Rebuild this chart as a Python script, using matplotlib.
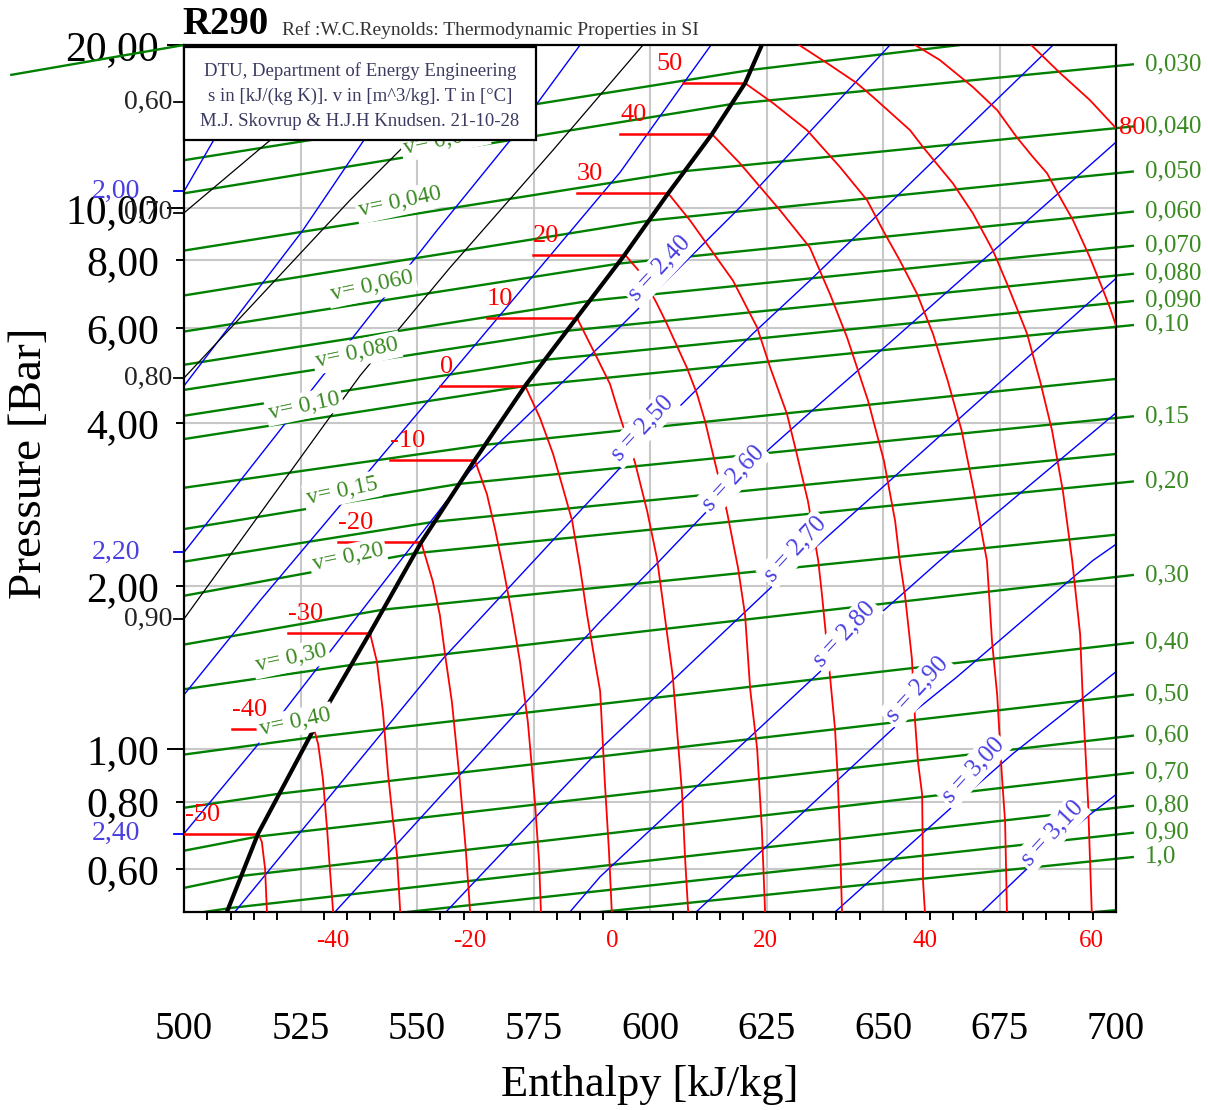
import matplotlib
matplotlib.use("Agg")
import matplotlib.pyplot as plt
import matplotlib.transforms as mtransforms
from matplotlib.patches import Rectangle

plt.rcParams['font.family'] = ['Liberation Serif', 'DejaVu Serif']

# ---------------- axis / tick data ----------------
h_major = [500, 525, 550, 575, 600, 625, 650, 675, 700]
h_major_labels = ['500', '525', '550', '575', '600', '625', '650', '675', '700']
h_minor = [505, 510, 515, 520, 530, 535, 540, 545, 555, 560, 565, 570, 580, 585, 590, 595,
           605, 610, 615, 620, 630, 635, 640, 645, 655, 660, 665, 670, 680, 685, 690, 695]
p_ticks_long = [1.0, 10.0, 20.0]
p_ticks_long_labels = ['1,00', '10,00', '20,00']
p_ticks_short = [0.6, 0.8, 2.0, 4.0, 6.0, 8.0]
p_ticks_short_labels = ['0,60', '0,80', '2,00', '4,00', '6,00', '8,00']
grid_h = [525, 550, 575, 600, 625, 650, 675]
grid_p = [0.6, 0.8, 1.0, 2.0, 4.0, 6.0, 8.0, 10.0]

# ---------------- saturated vapour line ----------------
sat_h = [624.0, 620.4, 613.3, 603.9, 594.6, 584.3, 573.2, 562.4, 550.9, 539.9, 527.9, 515.9, 509.2]
sat_p = [20.0, 17.0, 13.69, 10.64, 8.20, 6.27, 4.69, 3.42, 2.41, 1.64, 1.09, 0.698, 0.5]

# ---------------- isotherms: two-phase plateaus ----------------
plateau_T = [-50, -40, -30, -20, -10, 0, 10, 20, 30, 40, 50]
plateau_p = [0.698, 1.09, 1.64, 2.41, 3.42, 4.69, 6.27, 8.20, 10.64, 13.69, 17.0]
plateau_h_start = [500.0, 510.3, 522.3, 533.0, 544.2, 554.9, 565.0, 574.9, 584.3, 593.6, 607.1]
plateau_h_end = [515.9, 527.9, 539.9, 550.9, 562.4, 573.2, 584.3, 594.6, 603.9, 613.3, 620.4]
plateau_label_h = [500.2, 510.3, 522.3, 533.0, 544.2, 554.9, 565.0, 574.9, 584.3, 593.6, 601.3]

# ---------------- isotherms: superheated vapour ----------------
t_m50_h = [515.9, 516.7, 517.4, 517.8]
t_m50_p = [0.698, 0.674, 0.601, 0.5]
t_m40_h = [527.9, 528.8, 529.8, 530.7, 531.3, 532.0]
t_m40_p = [1.09, 1.02, 0.882, 0.713, 0.601, 0.5]
t_m30_h = [539.9, 541.4, 542.7, 543.8, 544.8, 545.7, 546.4]
t_m30_p = [1.64, 1.45, 1.17, 0.897, 0.744, 0.638, 0.5]
t_m20_h = [550.9, 553.4, 554.9, 556.0, 557.5, 559.2, 560.5, 561.4]
t_m20_p = [2.41, 2.04, 1.77, 1.50, 1.22, 0.871, 0.647, 0.5]
t_m10_h = [562.4, 565.0, 566.7, 568.5, 570.4, 572.1, 573.8, 575.3, 576.2, 576.6]
t_m10_p = [3.42, 2.96, 2.56, 2.16, 1.77, 1.45, 1.12, 0.800, 0.619, 0.5]
t_0_h = [573.2, 576.4, 579.2, 581.3, 583.3, 585.0, 586.5, 588.2, 589.3, 590.3, 591.2, 591.8]
t_0_p = [4.69, 4.09, 3.51, 3.04, 2.64, 2.16, 1.77, 1.45, 1.28, 0.871, 0.647, 0.5]
t_10_h = [584.3, 588.6, 591.4, 593.3, 596.8, 599.4, 601.5, 602.8, 604.9, 606.9, 607.5, 608.2]
t_10_p = [6.27, 5.29, 4.73, 4.18, 3.38, 2.75, 2.25, 1.86, 1.36, 0.824, 0.635, 0.5]
t_20_h = [594.6, 597.9, 601.5, 603.6, 607.9, 610.1, 611.8, 613.5, 616.5, 618.9, 620.4, 621.5, 623.0, 624.0, 624.7]
t_20_p = [8.20, 7.60, 6.65, 6.11, 5.07, 4.53, 4.04, 3.51, 2.75, 2.16, 1.77, 1.29, 1.00, 0.713, 0.5]
t_30_h = [603.9, 608.6, 617.8, 623.0, 625.8, 629.4, 631.5, 633.9, 636.1, 636.9, 638.6, 639.7, 640.3, 640.8, 641.2]
t_30_p = [10.64, 9.48, 7.34, 6.01, 5.07, 4.16, 3.51, 2.87, 2.23, 1.93, 1.37, 1.09, 0.882, 0.665, 0.5]
t_40_h = [613.3, 619.3, 627.9, 634.3, 638.6, 642.3, 646.8, 650.2, 652.6, 653.6, 654.7, 656.2, 656.9, 657.5, 658.4, 658.6, 659.0]
t_40_p = [13.69, 12.09, 9.90, 8.45, 6.94, 5.76, 4.40, 3.41, 2.64, 2.23, 1.93, 1.47, 1.12, 0.948, 0.824, 0.568, 0.5]
t_50_h = [620.4, 626.4, 633.7, 640.8, 646.6, 650.0, 653.6, 657.3, 660.7, 663.9, 666.9, 669.5, 672.3, 673.4, 674.5, 675.5, 676.2, 676.6]
t_50_p = [17.0, 15.62, 13.92, 11.89, 10.33, 9.09, 8.00, 6.94, 5.86, 4.79, 3.87, 3.00, 2.23, 1.58, 1.26, 0.897, 0.734, 0.5]
t_60_h = [632.0, 638.6, 644.4, 647.9, 655.8, 658.6, 665.0, 669.3, 673.6, 676.6, 680.9, 683.7, 686.3, 688.6, 690.6, 692.3, 692.9, 694.0, 694.8]
t_60_p = [20.0, 18.37, 17.0, 16.02, 13.92, 12.95, 11.10, 9.77, 8.34, 7.25, 5.86, 4.79, 3.87, 3.00, 2.23, 1.63, 1.22, 0.800, 0.5]
t_70_h = [656.9, 662.2, 669.3, 674.5, 678.7, 682.2, 685.2, 688.0, 690.8, 694.4, 697.0, 698.7, 700.0]
t_70_p = [20.0, 18.76, 16.72, 15.16, 13.51, 12.41, 11.59, 10.46, 9.48, 8.10, 7.13, 6.54, 6.06]
t_80_h = [681.8, 688.0, 694.4, 700.0]
t_80_p = [20.0, 17.75, 15.82, 14.04]
bottom_T = [-40, -20, 0, 20, 40, 60]

# ---------------- isentropes ----------------
s_200_h = [500.0, 518.2]
s_200_p = [10.73, 20.0]
s_210_h = [500.0, 525.5, 538.6, 553.2]
s_210_p = [4.69, 9.09, 13.34, 20.0]
s_220_h = [500.0, 554.3, 570.0, 585.0]
s_220_p = [2.31, 9.09, 13.34, 20.0]
s_230_h = [500.0, 516.3, 551.1, 593.6, 608.6, 613.1]
s_230_p = [1.26, 1.88, 4.27, 11.64, 17.67, 20.0]
s_240_h = [500.0, 516.3, 561.4, 593.6, 619.3, 651.5]
s_240_p = [0.698, 1.03, 3.27, 6.03, 10.02, 20.0]
s_250_h = [510.9, 555.6, 593.6, 605.8, 622.1, 634.3, 686.5]
s_250_p = [0.5, 1.47, 3.31, 4.25, 5.86, 7.34, 20.0]
s_260_h = [532.4, 581.3, 589.3, 602.1, 612.2, 625.8, 636.5, 651.5, 700.0]
s_260_p = [0.5, 1.45, 1.72, 2.23, 2.75, 3.60, 4.35, 5.64, 13.23]
s_270_h = [556.2, 589.3, 627.3, 700.0]
s_270_p = [0.5, 1.00, 2.04, 7.41]
s_280_h = [582.8, 589.3, 636.5, 649.4, 662.2, 700.0]
s_280_p = [0.5, 0.581, 1.39, 1.78, 2.23, 4.18]
s_290_h = [609.9, 652.1, 665.9, 695.0, 700.0]
s_290_p = [0.5, 1.09, 1.36, 2.23, 2.39]
s_300_h = [639.7, 664.4, 677.9, 700.0]
s_300_p = [0.5, 0.776, 0.981, 1.39]
s_310_h = [671.2, 680.9, 694.4, 700.0]
s_310_p = [0.5, 0.601, 0.757, 0.824]
s_left_labels = ['2,00', '2,20', '2,40']
s_inline_labels = ['s = 2,40', 's = 2,50', 's = 2,60', 's = 2,70', 's = 2,80', 's = 2,90', 's = 3,00', 's = 3,10']
s_inline_h = [602.1, 598.3, 617.8, 631.1, 641.8, 657.3, 669.3, 686.3]
s_inline_p = [7.73, 3.91, 3.16, 2.34, 1.63, 1.29, 0.916, 0.698]

# ---------------- quality lines ----------------
q_60_h = [500.0, 516.3]
q_60_p = [15.68, 20.0]
q_70_h = [500.0, 518.0, 546.4]
q_70_p = [9.79, 13.23, 20.0]
q_80_h = [500.0, 535.6, 568.9]
q_80_p = [4.85, 10.33, 20.0]
q_90_h = [500.0, 529.6, 537.8, 557.1, 579.2, 598.5]
q_90_p = [1.74, 3.92, 4.90, 7.76, 12.79, 20.0]
q_labels = ['0,60', '0,70', '0,80', '0,90']

# ---------------- isochores ----------------
v_0020_h = [462.7, 500.0]
v_0020_p = [17.60, 20.0]
v_0025_h = [500.0, 621.5, 666.5]
v_0025_p = [12.25, 17.98, 20.0]
v_0030_h = [500.0, 617.4, 700.0]
v_0030_p = [10.64, 15.55, 18.29]
v_0040_h = [500.0, 607.3, 700.0]
v_0040_p = [8.34, 11.69, 14.04]
v_0050_h = [500.0, 600.0, 700.0]
v_0050_p = [6.89, 9.48, 11.59]
v_0060_h = [500.0, 593.3, 700.0]
v_0060_p = [5.91, 7.89, 9.77]
v_0070_h = [500.0, 587.3, 700.0]
v_0070_p = [5.13, 6.74, 8.45]
v_0080_h = [500.0, 582.4, 700.0]
v_0080_p = [4.61, 5.93, 7.50]
v_0090_h = [500.0, 577.5, 700.0]
v_0090_p = [4.13, 5.24, 6.68]
v_010_h = [500.0, 573.4, 700.0]
v_010_p = [3.74, 4.69, 6.03]
v_012_h = [500.0, 564.6, 700.0]
v_012_p = [3.04, 3.65, 4.83]
v_015_h = [500.0, 559.0, 700.0]
v_015_p = [2.55, 3.09, 4.09]
v_017_h = [500.0, 553.6, 700.0]
v_017_p = [2.22, 2.63, 3.51]
v_020_h = [500.0, 549.4, 700.0]
v_020_p = [1.92, 2.30, 3.10]
v_025_h = [500.0, 542.7, 700.0]
v_025_p = [1.56, 1.81, 2.49]
v_030_h = [500.0, 535.8, 700.0]
v_030_p = [1.29, 1.43, 2.08]
v_040_h = [500.0, 527.0, 700.0]
v_040_p = [0.977, 1.05, 1.56]
v_050_h = [500.0, 520.4, 700.0]
v_050_p = [0.779, 0.827, 1.25]
v_060_h = [500.0, 515.7, 700.0]
v_060_p = [0.649, 0.689, 1.05]
v_070_h = [500.0, 512.4, 700.0]
v_070_p = [0.554, 0.583, 0.897]
v_080_h = [504.3, 510.3, 700.0]
v_080_p = [0.5, 0.509, 0.779]
v_090_h = [547.9, 700.0]
v_090_p = [0.5, 0.695]
v_100_h = [589.3, 700.0]
v_100_p = [0.5, 0.627]
v_120_h = [695.5, 700.0]
v_120_p = [0.5, 0.504]
v_inline_labels = ['v= 0,030', 'v= 0,040', 'v= 0,060', 'v= 0,080', 'v= 0,10', 'v= 0,15', 'v= 0,20', 'v= 0,30', 'v= 0,40']
v_inline_h = [556.0, 546.4, 540.3, 537.1, 525.8, 533.9, 535.2, 523.0, 523.8]
v_inline_p = [13.34, 10.24, 7.16, 5.40, 4.31, 3.00, 2.26, 1.47, 1.12]

# ---------------- text ----------------
title_main = 'R290'
title_ref = 'Ref :W.C.Reynolds: Thermodynamic Properties in SI'
box_lines = ['DTU, Department of Energy Engineering',
             's in [kJ/(kg K)]. v in [m^3/kg]. T in [\u00b0C]',
             'M.J. Skovrup & H.J.H Knudsen. 21-10-28']

# ======================= drawing =======================
W, H = 1208, 1110
RED, GREEN, BLUE = '#ff0000', '#008000', '#0000ff'
GREEN_TXT, BLUE_TXT = '#3a8a22', '#4a3fe0'

fig = plt.figure(figsize=(W / 100, H / 100), dpi=100)
ax = fig.add_axes([184 / W, 1 - 912 / H, 932 / W, 867 / H])
ax.set_yscale('log')
ax.set_xlim(500, 700)
ax.set_ylim(0.5, 20)
trans_ly = mtransforms.blended_transform_factory(ax.transAxes, ax.transData)

for g in grid_h:
    ax.axvline(g, color='#c8c8c8', lw=1.5, zorder=0.5)
for g in grid_p:
    ax.axhline(g, color='#c8c8c8', lw=1.5, zorder=0.5)

# isochores
isochores = [
    (v_0020_h, v_0020_p, None), (v_0025_h, v_0025_p, None),
    (v_0030_h, v_0030_p, '0,030'), (v_0040_h, v_0040_p, '0,040'),
    (v_0050_h, v_0050_p, '0,050'), (v_0060_h, v_0060_p, '0,060'),
    (v_0070_h, v_0070_p, '0,070'), (v_0080_h, v_0080_p, '0,080'),
    (v_0090_h, v_0090_p, '0,090'), (v_010_h, v_010_p, '0,10'),
    (v_012_h, v_012_p, None), (v_015_h, v_015_p, '0,15'),
    (v_017_h, v_017_p, None), (v_020_h, v_020_p, '0,20'),
    (v_025_h, v_025_p, None), (v_030_h, v_030_p, '0,30'),
    (v_040_h, v_040_p, '0,40'), (v_050_h, v_050_p, '0,50'),
    (v_060_h, v_060_p, '0,60'), (v_070_h, v_070_p, '0,70'),
    (v_080_h, v_080_p, '0,80'), (v_090_h, v_090_p, '0,90'),
    (v_100_h, v_100_p, '1,0'), (v_120_h, v_120_p, None),
]
for i, (hh, pp, lab) in enumerate(isochores):
    unclipped = (i == 0)
    ax.plot(hh, pp, color=GREEN, lw=1.7, zorder=2, clip_on=not unclipped,
            solid_capstyle='butt')
    if lab is not None:
        h1, h0 = hh[-1], hh[-2]
        p1, p0 = pp[-1], pp[-2]
        h_ext = h1 + 3.6
        p_ext = p1 * (p1 / p0) ** ((h_ext - h1) / (h1 - h0))
        ax.plot([h1, h_ext], [p1, p_ext], color=GREEN, lw=1.7, zorder=2, clip_on=False)
        ax.annotate(lab, xy=(1, p1), xycoords=trans_ly, xytext=(29, 2),
                    textcoords='offset pixels', ha='left', va='center',
                    fontsize=18, color=GREEN_TXT, annotation_clip=False)

# isentropes
isentropes = [(s_200_h, s_200_p), (s_210_h, s_210_p), (s_220_h, s_220_p),
              (s_230_h, s_230_p), (s_240_h, s_240_p), (s_250_h, s_250_p),
              (s_260_h, s_260_p), (s_270_h, s_270_p), (s_280_h, s_280_p),
              (s_290_h, s_290_p), (s_300_h, s_300_p), (s_310_h, s_310_p)]
for hh, pp in isentropes:
    ax.plot(hh, pp, color=BLUE, lw=1.0, zorder=2.2)

# quality lines
for hh, pp in [(q_60_h, q_60_p), (q_70_h, q_70_p), (q_80_h, q_80_p), (q_90_h, q_90_p)]:
    ax.plot(hh, pp, color='black', lw=0.9, zorder=2.3)

# isotherms
for T, p, h0, h1 in zip(plateau_T, plateau_p, plateau_h_start, plateau_h_end):
    ax.plot([h0, h1], [p, p], color=RED, lw=1.8, zorder=3)
for T, p, hl in zip(plateau_T, plateau_p, plateau_label_h):
    ax.annotate(str(T), xy=(hl, p), xytext=(0, 19), textcoords='offset pixels',
                ha='left', va='center', fontsize=19, color=RED, zorder=6)
superheated = {-50: (t_m50_h, t_m50_p), -40: (t_m40_h, t_m40_p), -30: (t_m30_h, t_m30_p),
               -20: (t_m20_h, t_m20_p), -10: (t_m10_h, t_m10_p), 0: (t_0_h, t_0_p),
               10: (t_10_h, t_10_p), 20: (t_20_h, t_20_p), 30: (t_30_h, t_30_p),
               40: (t_40_h, t_40_p), 50: (t_50_h, t_50_p), 60: (t_60_h, t_60_p),
               70: (t_70_h, t_70_p), 80: (t_80_h, t_80_p)}
for T, (hh, pp) in superheated.items():
    ax.plot(hh, pp, color=RED, lw=1.3, zorder=3)
for T in bottom_T:
    hh, pp = superheated[T]
    ax.annotate(str(T), xy=(hh[-1], 0.5), xytext=(0, -29), textcoords='offset pixels',
                ha='center', va='center', fontsize=18, color=RED, annotation_clip=False)
ax.annotate('80', xy=(1, t_80_p[-1]), xycoords=trans_ly, xytext=(3, 0),
            textcoords='offset pixels', ha='left', va='center', fontsize=19,
            color=RED, annotation_clip=False)

# saturated vapour line
ax.plot(sat_h, sat_p, color='black', lw=3.0, zorder=3.5, solid_capstyle='butt')

# inline labels
bb = dict(boxstyle='square,pad=0.12', fc='white', ec='none')
for t, h, p in zip(v_inline_labels, v_inline_h, v_inline_p):
    ax.text(h, p, t, rotation=12, rotation_mode='anchor', ha='center', va='center',
            fontsize=17, color=GREEN_TXT, bbox=bb, zorder=6)
for t, h, p in zip(s_inline_labels, s_inline_h, s_inline_p):
    ax.text(h, p, t, rotation=47, rotation_mode='anchor', ha='center', va='center',
            fontsize=18, color=BLUE_TXT, bbox=bb, zorder=6)

# left-edge labels for quality and entropy lines
for lab, pp in zip(q_labels, [q_60_p[0], q_70_p[0], q_80_p[0], q_90_p[0]]):
    ax.plot([-0.011, 0], [pp, pp], transform=trans_ly, color='black', lw=1.3, clip_on=False)
    ax.annotate(lab, xy=(0, pp), xycoords=trans_ly, xytext=(-12, 0), textcoords='offset pixels',
                ha='right', va='center', fontsize=20, color='#222222', annotation_clip=False)
for lab, pp in zip(s_left_labels, [s_200_p[0], s_220_p[0], s_240_p[0]]):
    ax.plot([-0.011, 0], [pp, pp], transform=trans_ly, color=BLUE, lw=1.3, clip_on=False)
    ax.annotate(lab, xy=(0, pp), xycoords=trans_ly, xytext=(-44, 0), textcoords='offset pixels',
                ha='right', va='center', fontsize=20, color=BLUE_TXT, annotation_clip=False)

# ticks
ax.set_xticks(h_major, h_major_labels)
ax.set_xticks(h_minor, minor=True)
ax.tick_params(axis='x', which='major', length=0, pad=71, labelsize=28)
ax.tick_params(axis='x', which='minor', length=6, width=1.4, direction='out')
ax.set_yticks(p_ticks_long, p_ticks_long_labels)
ax.set_yticks(p_ticks_short, p_ticks_short_labels, minor=True)
ax.tick_params(axis='y', which='major', length=12, width=1.4, pad=6, labelsize=30)
ax.tick_params(axis='y', which='minor', length=6, width=1.4, pad=12, labelsize=30)
for s in ax.spines.values():
    s.set_linewidth(1.6)

# axis titles
fig.text(30 / W, 1 - 463 / H, 'Pressure [Bar]', rotation=90, ha='center', va='center', fontsize=34)
fig.text(650 / W, 1 - 1085 / H, 'Enthalpy [kJ/kg]', ha='center', va='center', fontsize=32)

# title
fig.text(182 / W, 1 - 25 / H, title_main, fontsize=28, fontweight='bold', ha='left', va='center')
fig.text(282 / W, 1 - 30 / H, title_ref, fontsize=14, color='#333333', ha='left', va='center')

# info box
rect = Rectangle((184 / W, 1 - 140 / H), (536 - 184) / W, (140 - 47) / H,
                 transform=fig.transFigure, fc='white', ec='black', lw=1.6, zorder=10)
fig.add_artist(rect)
for line, yy in zip(box_lines, [71, 96, 122]):
    fig.text(360 / W, 1 - yy / H, line, ha='center', va='center', fontsize=13.5,
             color='#3a3a60', zorder=11)

fig.savefig('out.png', dpi=100)
